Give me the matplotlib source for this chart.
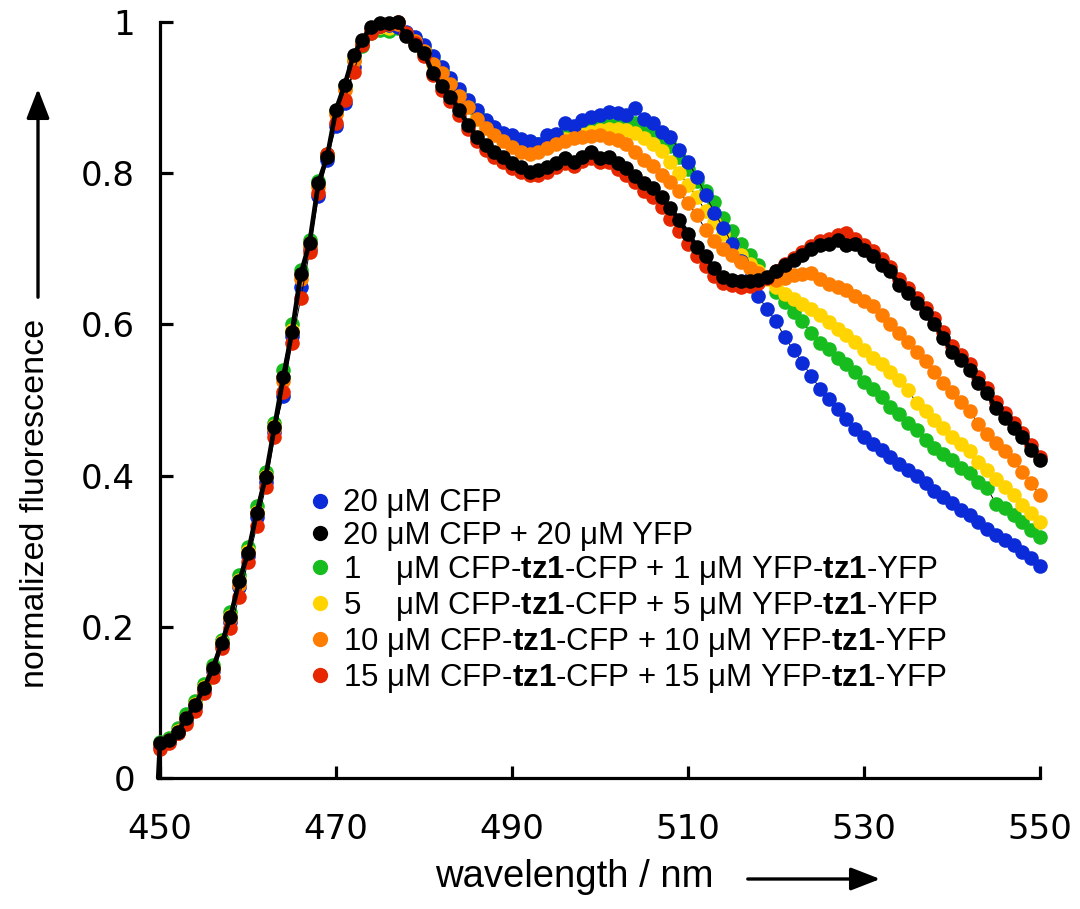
import matplotlib
matplotlib.use("Agg")
import matplotlib.pyplot as plt
from matplotlib.patches import FancyArrowPatch
from matplotlib.lines import Line2D

plt.rcParams['mathtext.fontset'] = 'custom'
plt.rcParams['mathtext.rm'] = 'Liberation Sans'
plt.rcParams['mathtext.bf'] = 'Liberation Sans:bold'
plt.rcParams['mathtext.it'] = 'Liberation Sans:italic'

# ---------------- data ----------------
wavelength = list(range(450, 551))

cfp = [  # 20 uM CFP (blue)
    0.042, 0.048, 0.060, 0.076, 0.094, 0.116, 0.141, 0.175, 0.206, 0.252,
    0.293, 0.345, 0.392, 0.458, 0.505, 0.585, 0.650, 0.700, 0.770, 0.818,
    0.862, 0.893, 0.940, 0.972, 0.990, 0.995, 0.996, 0.994, 0.987, 0.980,
    0.970, 0.955, 0.940, 0.926, 0.912, 0.897, 0.883, 0.871, 0.861, 0.853,
    0.851, 0.845, 0.842, 0.838, 0.850, 0.852, 0.866, 0.862, 0.870, 0.875,
    0.877, 0.881, 0.879, 0.877, 0.886, 0.872, 0.866, 0.855, 0.848, 0.831,
    0.815, 0.795, 0.771, 0.748, 0.728, 0.707, 0.684, 0.660, 0.637, 0.620,
    0.604, 0.583, 0.566, 0.549, 0.532, 0.515, 0.501, 0.488, 0.475, 0.462,
    0.451, 0.442, 0.434, 0.425, 0.416, 0.407, 0.399, 0.390, 0.380, 0.372,
    0.364, 0.355, 0.348, 0.339, 0.330, 0.321, 0.315, 0.308, 0.299, 0.291,
    0.280]

cfp_yfp = [  # 20 uM CFP + 20 uM YFP (black)
    0.046, 0.050, 0.061, 0.079, 0.097, 0.119, 0.145, 0.178, 0.213, 0.260,
    0.298, 0.351, 0.398, 0.464, 0.530, 0.590, 0.667, 0.708, 0.787, 0.822,
    0.884, 0.917, 0.957, 0.976, 0.994, 0.999, 0.999, 1.000, 0.981, 0.970,
    0.959, 0.932, 0.915, 0.901, 0.884, 0.864, 0.848, 0.837, 0.828, 0.822,
    0.813, 0.808, 0.802, 0.804, 0.808, 0.813, 0.820, 0.815, 0.822, 0.828,
    0.820, 0.822, 0.813, 0.807, 0.796, 0.787, 0.780, 0.769, 0.754, 0.738,
    0.720, 0.703, 0.690, 0.674, 0.663, 0.659, 0.657, 0.657, 0.659, 0.663,
    0.670, 0.679, 0.685, 0.692, 0.700, 0.705, 0.707, 0.712, 0.705, 0.707,
    0.698, 0.690, 0.679, 0.670, 0.652, 0.641, 0.628, 0.615, 0.601, 0.582,
    0.564, 0.553, 0.540, 0.522, 0.509, 0.489, 0.476, 0.463, 0.451, 0.434,
    0.421]
# start of the smoothed trace drawn under the black markers
trace_start_wl = 449.8
trace_start_val = 0.0

tz1_1uM = [  # green
    0.048, 0.053, 0.066, 0.084, 0.102, 0.124, 0.150, 0.183, 0.220, 0.268,
    0.305, 0.360, 0.405, 0.470, 0.540, 0.600, 0.672, 0.712, 0.790, 0.825,
    0.882, 0.915, 0.950, 0.968, 0.985, 0.990, 0.988, 0.992, 0.985, 0.976,
    0.965, 0.950, 0.936, 0.922, 0.908, 0.893, 0.879, 0.867, 0.857, 0.850,
    0.848, 0.843, 0.840, 0.838, 0.842, 0.846, 0.851, 0.854, 0.857, 0.860,
    0.862, 0.864, 0.865, 0.866, 0.866, 0.862, 0.857, 0.848, 0.836, 0.822,
    0.806, 0.790, 0.777, 0.762, 0.741, 0.723, 0.707, 0.692, 0.679, 0.662,
    0.643, 0.630, 0.617, 0.604, 0.588, 0.575, 0.568, 0.555, 0.548, 0.537,
    0.524, 0.514, 0.504, 0.491, 0.482, 0.469, 0.460, 0.447, 0.436, 0.429,
    0.421, 0.410, 0.403, 0.392, 0.383, 0.363, 0.357, 0.348, 0.339, 0.328,
    0.319]

tz1_5uM = [  # yellow
    0.045, 0.050, 0.062, 0.080, 0.098, 0.120, 0.146, 0.180, 0.214, 0.262,
    0.300, 0.352, 0.400, 0.466, 0.530, 0.592, 0.665, 0.708, 0.785, 0.822,
    0.880, 0.912, 0.952, 0.972, 0.988, 0.993, 0.992, 0.995, 0.984, 0.975,
    0.963, 0.947, 0.933, 0.919, 0.904, 0.889, 0.874, 0.862, 0.852, 0.845,
    0.842, 0.838, 0.835, 0.833, 0.835, 0.840, 0.845, 0.848, 0.852, 0.855,
    0.857, 0.858, 0.859, 0.857, 0.853, 0.846, 0.838, 0.830, 0.815, 0.800,
    0.785, 0.768, 0.750, 0.735, 0.720, 0.705, 0.692, 0.680, 0.670, 0.660,
    0.650, 0.640, 0.633, 0.627, 0.620, 0.612, 0.603, 0.594, 0.586, 0.577,
    0.566, 0.555, 0.547, 0.537, 0.526, 0.513, 0.496, 0.485, 0.474, 0.463,
    0.451, 0.442, 0.432, 0.418, 0.407, 0.396, 0.385, 0.374, 0.361, 0.350,
    0.339]

tz1_10uM = [  # orange
    0.044, 0.049, 0.060, 0.078, 0.096, 0.118, 0.144, 0.177, 0.210, 0.255,
    0.298, 0.350, 0.398, 0.462, 0.525, 0.590, 0.660, 0.703, 0.782, 0.824,
    0.878, 0.910, 0.948, 0.972, 0.990, 0.996, 0.997, 0.998, 0.984, 0.975,
    0.962, 0.945, 0.932, 0.918, 0.902, 0.887, 0.872, 0.860, 0.850, 0.842,
    0.835, 0.828, 0.826, 0.828, 0.833, 0.839, 0.843, 0.846, 0.848, 0.849,
    0.850, 0.847, 0.844, 0.838, 0.828, 0.818, 0.809, 0.798, 0.788, 0.776,
    0.760, 0.745, 0.725, 0.710, 0.700, 0.692, 0.683, 0.675, 0.668, 0.662,
    0.659, 0.661, 0.665, 0.667, 0.668, 0.660, 0.654, 0.650, 0.645, 0.638,
    0.631, 0.625, 0.612, 0.600, 0.589, 0.577, 0.563, 0.551, 0.537, 0.523,
    0.510, 0.498, 0.486, 0.468, 0.455, 0.443, 0.432, 0.420, 0.405, 0.390,
    0.374]

tz1_15uM = [  # red
    0.039, 0.046, 0.059, 0.072, 0.088, 0.112, 0.134, 0.172, 0.198, 0.240,
    0.286, 0.333, 0.385, 0.451, 0.511, 0.575, 0.635, 0.696, 0.774, 0.826,
    0.867, 0.897, 0.934, 0.970, 0.985, 0.995, 0.998, 1.000, 0.985, 0.972,
    0.955, 0.930, 0.910, 0.895, 0.877, 0.858, 0.842, 0.831, 0.822, 0.815,
    0.807, 0.802, 0.797, 0.797, 0.802, 0.808, 0.813, 0.810, 0.816, 0.820,
    0.815, 0.815, 0.806, 0.798, 0.788, 0.777, 0.768, 0.755, 0.740, 0.724,
    0.706, 0.690, 0.677, 0.664, 0.655, 0.652, 0.650, 0.651, 0.655, 0.661,
    0.670, 0.680, 0.688, 0.696, 0.704, 0.710, 0.713, 0.718, 0.721, 0.713,
    0.705, 0.697, 0.686, 0.676, 0.660, 0.648, 0.635, 0.622, 0.608, 0.590,
    0.572, 0.560, 0.547, 0.530, 0.516, 0.497, 0.483, 0.470, 0.457, 0.440,
    0.424]

labels = [
    "20 μM CFP",
    "20 μM CFP + 20 μM YFP",
    "1    μM CFP-$\\mathbf{tz1}$-CFP + 1 μM YFP-$\\mathbf{tz1}$-YFP",
    "5    μM CFP-$\\mathbf{tz1}$-CFP + 5 μM YFP-$\\mathbf{tz1}$-YFP",
    "10 μM CFP-$\\mathbf{tz1}$-CFP + 10 μM YFP-$\\mathbf{tz1}$-YFP",
    "15 μM CFP-$\\mathbf{tz1}$-CFP + 15 μM YFP-$\\mathbf{tz1}$-YFP",
]
colors = ["#0b2bd8", "#000000", "#17bd1f", "#ffd400", "#ff7d00", "#e62700"]
series = [cfp, cfp_yfp, tz1_1uM, tz1_5uM, tz1_10uM, tz1_15uM]
zorders = [5, 9, 3, 4, 6, 7]

xticks = [450, 470, 490, 510, 530, 550]
yticks = [0, 0.2, 0.4, 0.6, 0.8, 1]
ytick_labels = ["0", "0.2", "0.4", "0.6", "0.8", "1"]

# ---------------- figure ----------------
W, H = 1080, 909
fig = plt.figure(figsize=(W / 100, H / 100), dpi=100)
ax = fig.add_axes([160 / W, 131 / H, 880 / W, 756 / H])

for vals, col, z in zip(series, colors, zorders):
    if col == "#000000":
        ax.plot([trace_start_wl] + wavelength, [trace_start_val] + vals,
                color="k", lw=3.4, zorder=z - 0.5, clip_on=False,
                solid_capstyle="round")
    else:
        ax.plot(wavelength, vals, color="k", lw=0.7, zorder=z - 0.5, clip_on=False)
    ax.plot(wavelength, vals, "o", color=col, ms=10.5, mew=0, zorder=z, clip_on=False)

ax.set_xlim(450, 550)
ax.set_ylim(0, 1)
for s in ["top", "right"]:
    ax.spines[s].set_visible(False)
for s in ["left", "bottom"]:
    ax.spines[s].set_linewidth(2.3)
ax.spines["left"].set_bounds(0, 1)
ax.spines["bottom"].set_bounds(450, 550)

ax.set_xticks(xticks)
ax.set_xticklabels([str(v) for v in xticks], family="DejaVu Sans")
ax.set_yticks(yticks)
ax.set_yticklabels(ytick_labels, family="DejaVu Sans")
ax.tick_params(axis="both", direction="in", length=9, width=2.3, labelsize=24.5)
ax.tick_params(axis="x", pad=25)
ax.tick_params(axis="y", pad=18)

handles = [Line2D([], [], ls="none", marker="o", ms=11, mew=0, color=c) for c in colors]
leg = ax.legend(handles, labels, loc="upper left", bbox_to_anchor=(0.171, 0.383),
                frameon=False, handlelength=0.6, handletextpad=0.45,
                labelspacing=0.09, borderpad=0, borderaxespad=0,
                prop={"family": "Liberation Sans", "size": 22.5})
leg.set_zorder(20)

fig.text(36 / W, 1 - 503 / H, "normalized fluorescence", rotation=90,
         ha="center", va="center", family="Liberation Sans", fontsize=24.5)
fig.text(574 / W, 1 - 877 / H, "wavelength / nm", ha="center", va="center",
         family="Liberation Sans", fontsize=27.5)

arr_y = FancyArrowPatch((38 / W, 1 - 300 / H), (38 / W, 1 - 86 / H),
                        transform=fig.transFigure, color="k", lw=2.4,
                        arrowstyle="-|>,head_length=0.9,head_width=0.35",
                        mutation_scale=20)
arr_x = FancyArrowPatch((745 / W, 1 - 879 / H), (883 / W, 1 - 879 / H),
                        transform=fig.transFigure, color="k", lw=2.4,
                        arrowstyle="-|>,head_length=0.9,head_width=0.35",
                        mutation_scale=20)
fig.add_artist(arr_y)
fig.add_artist(arr_x)

fig.savefig("out.png", dpi=100)
